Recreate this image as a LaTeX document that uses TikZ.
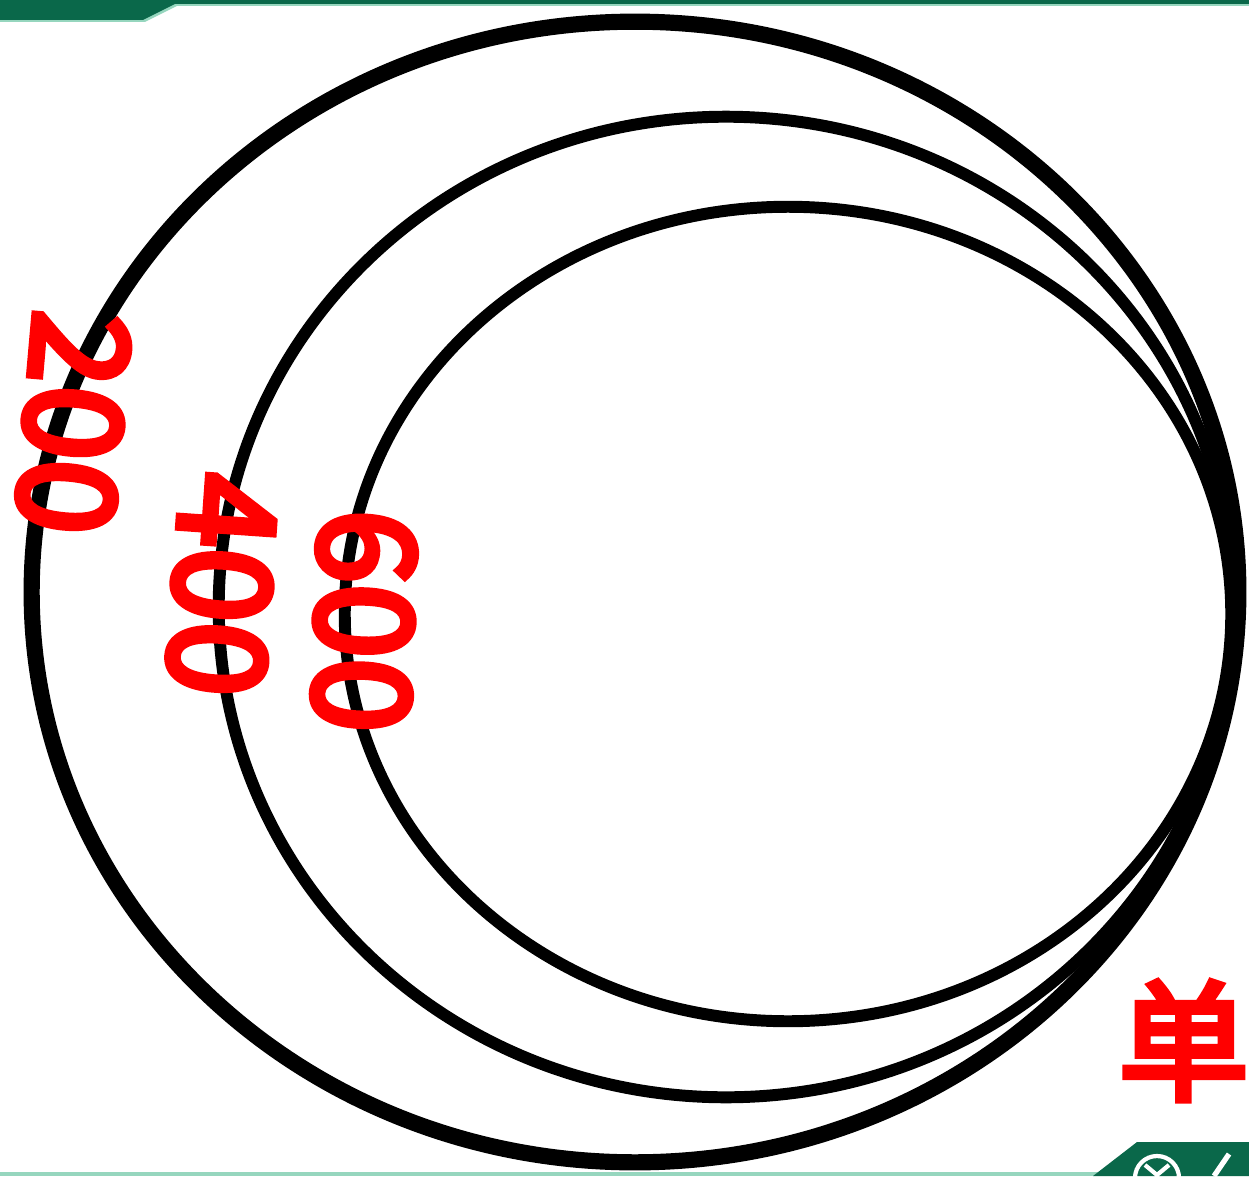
\documentclass[tikz,border=0pt]{standalone}
\usepackage{fontspec}
\setmainfont{Noto Sans CJK SC}
\newfontfamily\labelfont{Noto Sans CJK SC}[FakeBold=5]
\usetikzlibrary{positioning}
\definecolor{bannergreen}{RGB}{10,104,74}
\definecolor{mintline}{RGB}{150,214,190}

\begin{document}
\begin{tikzpicture}[
    x=0.01cm, y=-0.01cm,
    every node/.style={inner sep=0pt, text=red},
    ring/.style={draw=black, line width=3.4pt},
    outerring/.style={draw=black, line width=4.6pt},
    radius label/.style={font=\fontsize{38}{38}\labelfont},
    unit label/.style={font=\fontsize{37}{37}\labelfont, anchor=west},
    banner/.style={fill=bannergreen, draw=none}
]
    \useasboundingbox (0,0) rectangle (1249,1176);
    \clip (0,0) rectangle (1249,1176);

    % green bands of the slide
    \fill[mintline] (0,0) -- (1249,0) -- (1249,6) -- (177,6) -- (145,22) -- (0,22) -- cycle;
    \fill[banner] (0,0) -- (1249,0) -- (1249,4) -- (175,4) -- (143,20) -- (0,20) -- cycle;
    \fill[mintline] (0,1172) rectangle (1249,1176);
    \fill[banner] (1093,1176) -- (1137,1142) -- (1249,1142) -- (1249,1176) -- cycle;
    \draw[white, line width=1.2pt] (1157,1178) circle [radius=0.22cm];
    \draw[white, line width=1.2pt] (1145,1165) -- (1157,1175) -- (1169,1165) (1157,1175) -- (1157,1190);
    \draw[white, line width=1.5pt] (1214,1176) -- (1229,1154);

    % the three rings
    \draw[outerring] (635,592) ellipse [x radius=6.03cm, y radius=5.70cm];
    \draw[ring] (726,607) ellipse [x radius=5.07cm, y radius=4.90cm];
    \draw[ring] (788,614) ellipse [x radius=4.43cm, y radius=4.07cm];

    % labels
    \node[radius label, rotate=-95] (r200) at (73,423) {200};
    \node[radius label, rotate=-94] (r400) at (222,585) {400};
    \node[radius label, rotate=-92] (r600) at (364,621) {600};
    \node[unit label] (unit) at (1118,1040) {单位};
\end{tikzpicture}
\end{document}
